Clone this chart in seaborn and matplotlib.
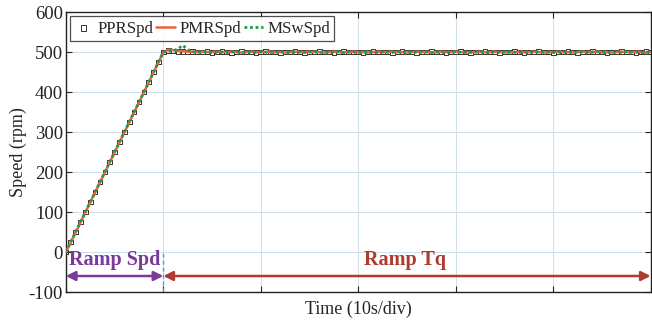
import matplotlib
matplotlib.use("Agg")
import matplotlib.pyplot as plt
import seaborn as sns
import pandas as pd

# ---- data ----
ramp_time = [0, 0.5, 1, 1.5, 2, 2.5, 3, 3.5, 4, 4.5, 5, 5.5, 6, 6.5, 7, 7.5, 8, 8.5, 9, 9.5, 10]
plateau_time = [10.5, 11, 11.5, 12, 12.5, 13, 13.5, 14, 14.5, 15,
                15.5, 16, 16.5, 17, 17.5, 18, 18.5, 19, 19.5, 20,
                20.5, 21, 21.5, 22, 22.5, 23, 23.5, 24, 24.5, 25,
                25.5, 26, 26.5, 27, 27.5, 28, 28.5, 29, 29.5, 30,
                30.5, 31, 31.5, 32, 32.5, 33, 33.5, 34, 34.5, 35,
                35.5, 36, 36.5, 37, 37.5, 38, 38.5, 39, 39.5, 40,
                40.5, 41, 41.5, 42, 42.5, 43, 43.5, 44, 44.5, 45,
                45.5, 46, 46.5, 47, 47.5, 48, 48.5, 49, 49.5, 50,
                50.5, 51, 51.5, 52, 52.5, 53, 53.5, 54, 54.5, 55,
                55.5, 56, 56.5, 57, 57.5, 58, 58.5, 59, 59.5, 60]

ppr_ramp = [0, 25, 50, 75, 100, 125, 150, 175, 200, 225, 250, 275, 300, 325, 350, 375, 400, 425, 450, 475, 500]
ppr_plateau = [504, 503, 501, 501, 500, 501, 500, 500, 501, 499,
               500, 501, 500, 499, 500, 501, 500, 500, 499, 500,
               501, 500, 500, 499, 500, 500, 501, 500, 499, 500,
               500, 501, 500, 500, 499, 500, 501, 500, 500, 500,
               499, 500, 501, 500, 500, 500, 499, 500, 501, 500,
               500, 499, 500, 500, 501, 500, 500, 499, 500, 500,
               501, 500, 499, 500, 500, 501, 500, 500, 499, 500,
               500, 501, 500, 499, 500, 500, 501, 500, 500, 499,
               500, 500, 501, 500, 499, 500, 500, 501, 500, 500,
               499, 500, 500, 501, 500, 500, 499, 500, 501, 500]

pmr_ramp = [0, 24, 49, 74, 99, 124, 149, 174, 199, 224, 249, 274, 299, 324, 349, 374, 399, 424, 449, 474, 499]
pmr_plateau = [506, 505, 503, 502, 501, 501, 500, 501, 500, 500,
               501, 500, 500, 501, 500, 499, 500, 501, 500, 500,
               500, 501, 500, 500, 499, 500, 501, 500, 500, 501,
               500, 500, 499, 500, 501, 500, 500, 500, 501, 500,
               500, 499, 500, 501, 500, 500, 501, 500, 500, 499,
               500, 501, 500, 500, 499, 500, 501, 500, 500, 501,
               500, 500, 499, 500, 501, 500, 500, 501, 500, 500,
               499, 500, 501, 500, 500, 501, 500, 499, 500, 500,
               501, 500, 500, 499, 500, 501, 500, 500, 501, 500,
               500, 499, 500, 501, 500, 500, 501, 500, 499, 500]

msw_ramp = [0, 25, 50, 75, 100, 125, 150, 175, 200, 225, 250, 275, 300, 325, 350, 375, 400, 425, 450, 475, 500]
msw_plateau = [502, 503, 508, 517, 506, 501, 499, 500, 501, 499,
               500, 500, 499, 500, 501, 499, 500, 500, 499, 501,
               500, 499, 500, 500, 501, 499, 500, 500, 499, 500,
               501, 500, 499, 500, 500, 501, 499, 500, 500, 499,
               500, 501, 500, 499, 500, 500, 499, 501, 500, 500,
               499, 500, 500, 501, 499, 500, 500, 499, 501, 500,
               500, 499, 500, 500, 501, 499, 500, 500, 499, 500,
               501, 500, 499, 500, 500, 499, 501, 500, 500, 499,
               500, 500, 501, 499, 500, 500, 499, 500, 501, 500,
               499, 500, 500, 499, 501, 500, 500, 499, 500, 500]

series_names = ["PPRSpd", "PMRSpd", "MSwSpd"]
y_ticks = [-100, 0, 100, 200, 300, 400, 500, 600]
x_ticks = [0, 10, 20, 30, 40, 50, 60]

time = ramp_time + plateau_time
ppr = ppr_ramp + ppr_plateau
pmr = pmr_ramp + pmr_plateau
msw = msw_ramp + msw_plateau

df = pd.DataFrame({"t": time, "PPRSpd": ppr, "PMRSpd": pmr, "MSwSpd": msw})

# ---- style ----
sns.set_theme(style="white")
plt.rcParams["font.family"] = ["Liberation Serif", "DejaVu Serif"]
plt.rcParams["axes.unicode_minus"] = False

fig = plt.figure(figsize=(6.52, 3.27), dpi=100)
ax = fig.add_axes([0.101, 0.107, 0.897, 0.856])

grid_c = "#cfe0ea"
for yt in y_ticks:
    ax.axhline(yt, color=grid_c, lw=0.7, zorder=0)
for xt in x_ticks:
    ax.axvline(xt, color=grid_c, lw=0.7, zorder=0)

sns.scatterplot(data=df, x="t", y="PPRSpd", ax=ax, marker="s", s=11,
                facecolor="none", edgecolor="#333333", linewidth=0.7,
                label="PPRSpd", zorder=3)
sns.lineplot(data=df, x="t", y="PMRSpd", ax=ax, color="#f0603c", lw=1.8,
             label="PMRSpd", zorder=4)
sns.lineplot(data=df, x="t", y="MSwSpd", ax=ax, color="#1e9a4a", lw=2.0,
             linestyle=(0, (1, 1)), label="MSwSpd", zorder=5)

ax.set_xlim(0, 60)
ax.set_ylim(-100, 600)
ax.set_yticks(y_ticks)
ax.set_xticks(x_ticks)
ax.set_xticklabels([])
ax.tick_params(direction="in", length=4, width=0.8, top=True, right=True,
               bottom=True, left=True, labelsize=13.5, pad=2, colors="#222222")
for sp in ax.spines.values():
    sp.set_color("#222222")
    sp.set_linewidth(1.0)
ax.set_xlabel("Time (10s/div)", fontsize=13, labelpad=4)
ax.set_ylabel("Speed (rpm)", fontsize=13, labelpad=1)

leg = ax.legend(loc="upper left", ncol=3, fontsize=12.2, frameon=True,
                fancybox=False, edgecolor="#222222", handlelength=1.1,
                handletextpad=0.25, columnspacing=0.2, borderpad=0.25,
                borderaxespad=0.25, markerscale=1.2)
leg.get_frame().set_linewidth(0.9)

# annotations
purple = "#7a3a9a"
darkred = "#b03a2e"
ax.plot([10, 10], [-100, 0], color="#4a9ee6", lw=1.0, ls=(0, (3, 2)), zorder=2)
ax.annotate("", xy=(0, -60), xytext=(10, -60),
            arrowprops=dict(arrowstyle="<|-|>", color=purple, lw=1.8,
                            mutation_scale=14, shrinkA=0, shrinkB=0))
ax.annotate("", xy=(10, -60), xytext=(60, -60),
            arrowprops=dict(arrowstyle="<|-|>", color=darkred, lw=1.8,
                            mutation_scale=14, shrinkA=0, shrinkB=0))
ax.text(5, -20, "Ramp Spd", color=purple, fontsize=14.5, fontweight="bold",
        ha="center", va="center")
ax.text(34.8, -20, "Ramp Tq", color=darkred, fontsize=14.5, fontweight="bold",
        ha="center", va="center")

fig.savefig("out.png", dpi=100)
